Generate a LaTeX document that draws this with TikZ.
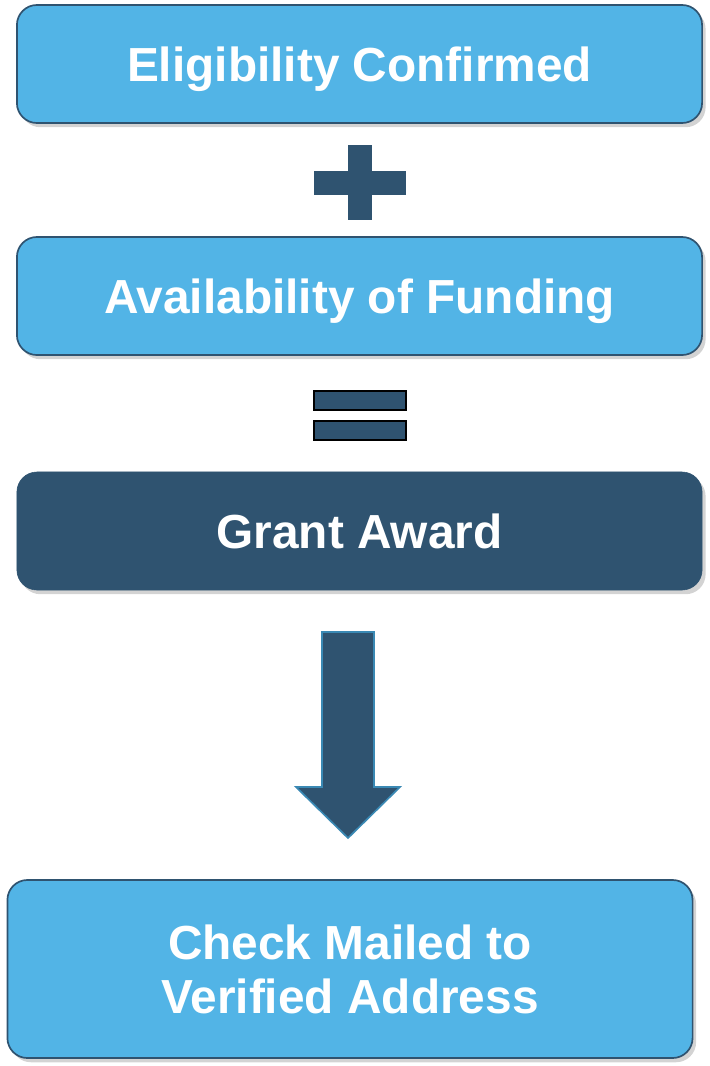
\documentclass[tikz,border=0pt]{standalone}
\usepackage{fontspec}
\setmainfont{Liberation Sans}
\usepackage{xcolor}
\usetikzlibrary{shadows}
\definecolor{skyblue}{HTML}{52B4E6}
\definecolor{navy}{HTML}{2F5370}
\definecolor{arrowedge}{HTML}{3A89B4}

\begin{document}
\begin{tikzpicture}[x=0.025cm,y=-0.025cm,%
% common options for the boxes:
stage/.style = {rectangle, rounded corners=0.5cm,
            text=white, font=\fontsize{34}{38.5}\selectfont\bfseries,
            minimum width=17.125cm, minimum height=2.95cm, inner sep=0,
            drop shadow={shadow xshift=2.5pt, shadow yshift=-3pt, opacity=0.35}},
lightstage/.style = {stage, fill=skyblue, draw=navy, line width=1.2pt},
darkstage/.style = {stage, fill=navy, draw=navy},
oneline/.style = {text height=24.5pt, text depth=0pt},
% operator signs:
sign/.style = {fill=navy},
bar/.style = {fill=navy, draw=black, line width=1.5pt}]
\useasboundingbox (0,0) rectangle (710,1066);
\node[lightstage,oneline] (eligible) at (359.5,64) {Eligibility Confirmed};
\node[lightstage,oneline] (funding) at (359.5,296) {Availability of Funding};
\node[darkstage,oneline] (award) at (359.5,531) {Grant Award};
\node[lightstage,align=center,minimum height=4.45cm] (check) at (350,969) {Check Mailed to\\Verified Address};
% plus
\fill[sign] (348,145) rectangle (372,220);
\fill[sign] (314,171) rectangle (406,195);
% equals
\draw[bar] (314,391) rectangle (406,410);
\draw[bar] (314,421) rectangle (406,440);
% arrow
\draw[fill=navy, draw=arrowedge, line width=1.2pt]
  (322,632) -- (374,632) -- (374,787) -- (400,787) -- (348,838)
  -- (296,787) -- (322,787) -- cycle;
\end{tikzpicture}
\end{document}
